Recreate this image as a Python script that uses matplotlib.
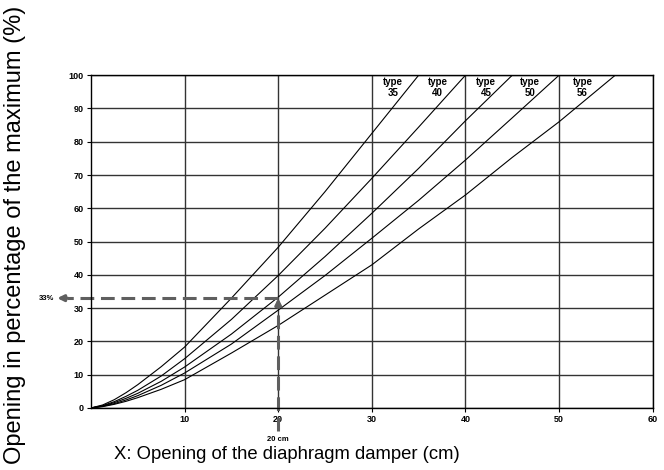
import numpy as np
import matplotlib.pyplot as plt

plt.rcParams['font.family'] = ['Liberation Sans', 'DejaVu Sans']

# opening (cm) where each curve was read
x_pts = [0, 1.25, 2.5, 3.75, 5, 7.5, 10, 15, 20, 25, 30, 35, 40, 45, 50, 56]

# curves, opening in % of the maximum
type35 = [0, 0.9, 2.5, 4.6, 7.0, 12.4, 18.3, 33.0, 48.3, 65.0, 82.5, 100]
type40 = [0, 0.7, 1.9, 3.5, 5.3, 9.6, 14.8, 26.6, 39.8, 54.0, 69.0, 84.4, 100]
type45 = [0, 0.6, 1.6, 2.9, 4.4, 8.0, 12.3, 22.2, 33.3, 45.5, 58.5, 72.0, 86.3, 100]
type50 = [0, 0.5, 1.3, 2.4, 3.7, 6.8, 10.5, 19.2, 29.4, 39.8, 51.0, 62.4, 74.5, 87.2, 100]
type56 = [0, 0.4, 1.1, 2.0, 3.1, 5.6, 8.5, 16.5, 24.8, 33.9, 43.0, 53.8, 64.0, 75.3, 86.0, 100]
curves = [type35, type40, type45, type50, type56]

type_names = ['type\n35', 'type\n40', 'type\n45', 'type\n50', 'type\n56']
type_label_x = [32.3, 37.0, 42.2, 46.9, 52.5]

x_ticks = [10, 20, 30, 40, 50, 60]
y_ticks = [0, 10, 20, 30, 40, 50, 60, 70, 80, 90, 100]

example_x = 20
example_y = 33

fig = plt.figure(figsize=(6.64, 4.70), dpi=100)
ax = fig.add_axes([0.137, 0.132, 0.846, 0.708])

for c in curves:
    ax.plot(x_pts[:len(c)], c, color='black', lw=0.8)

ax.set_xlim(0, 60)
ax.set_ylim(0, 100)
ax.set_xticks(x_ticks)
ax.set_yticks(y_ticks)
ax.tick_params(labelsize=6.5, length=3, width=0.8, pad=2)
for lab in ax.get_xticklabels() + ax.get_yticklabels():
    lab.set_fontweight('bold')
ax.grid(True, color='#333333', lw=1)
for s in ax.spines.values():
    s.set_color('black')
    s.set_linewidth(1)

for name, tx in zip(type_names, type_label_x):
    ax.text(tx, 99.6, name, ha='center', va='top', fontsize=7,
            fontweight='bold', linespacing=1.15)

# example: 20 cm opening -> 33 %
dash_col = '#5f5f5f'
ax.plot([example_x, example_x], [-6.8, example_y - 2.5], color=dash_col, lw=2.2,
        dashes=(4.5, 2.2), clip_on=False)
ax.annotate('', xy=(example_x, example_y), xytext=(example_x, example_y - 2.6),
            arrowprops=dict(arrowstyle='-|>', color=dash_col, lw=2.2,
                            mutation_scale=9, shrinkA=0, shrinkB=0),
            annotation_clip=False)
ax.plot([example_x, -2.6], [example_y, example_y], color=dash_col, lw=2.2,
        dashes=(4.5, 2.2), clip_on=False)
ax.annotate('', xy=(-3.6, example_y), xytext=(-2.5, example_y),
            arrowprops=dict(arrowstyle='-|>', color=dash_col, lw=2.2,
                            mutation_scale=9, shrinkA=0, shrinkB=0),
            annotation_clip=False)
ax.text(-3.9, example_y, '33%', ha='right', va='center', fontsize=5.5,
        fontweight='bold', clip_on=False)
ax.text(example_x, -9.6, '20 cm', ha='center', va='center', fontsize=5.5,
        fontweight='bold', clip_on=False)

fig.text(0.432, 0.032, 'X: Opening of the diaphragm damper (cm)', ha='center',
         va='center', fontsize=13.3)
fig.text(0.022, 0.5, 'Opening in percentage of the maximum (%)', ha='center',
         va='center', rotation=90, fontsize=17)

fig.savefig('out.png', dpi=100)
